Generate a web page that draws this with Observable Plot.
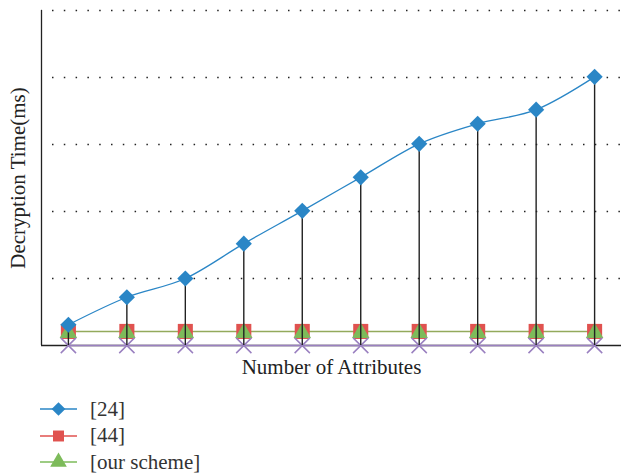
<!DOCTYPE html>
<html><head><meta charset="utf-8">
<script src="https://cdn.jsdelivr.net/npm/d3@7"></script>
<script src="https://cdn.jsdelivr.net/npm/@observablehq/plot@0.6"></script>
<style>
body{margin:0;background:#fff;font-family:"Liberation Serif","DejaVu Serif",serif;}
#legend{margin-left:40px;margin-top:11px;}
.item{display:flex;align-items:center;height:26.5px;font-size:21px;color:#333;}
.item svg{margin-right:13px;}
</style></head><body>
<div id="chart"></div>
<div id="legend"></div>
<script>
const attributes = [1,2,3,4,5,6,7,8,9,10];
const ref24 = [0.31,0.72,1.0,1.52,2.01,2.51,3.01,3.31,3.52,4.01];
const ref44 = [0.21,0.21,0.21,0.21,0.21,0.21,0.21,0.21,0.21,0.21];
const ours = [0.21,0.21,0.21,0.21,0.21,0.21,0.21,0.21,0.21,0.21];
const baseline = [0,0,0,0,0,0,0,0,0,0];
const gridValues = [1,2,3,4,5];
const seriesNames = ["[24]","[44]","[our scheme]"];
const colors = {blue:"#2a86c6", red:"#e0524f", green:"#7dbb5a", greenLine:"#93aa5c", purple:"#9a80c0"};

const rows = attributes.map((a,i)=>({a, b:ref24[i], r:ref44[i], g:ours[i], p:baseline[i]}));

const plot = Plot.plot({
  width:621, height:385,
  marginLeft:41, marginRight:0, marginTop:10, marginBottom:40,
  x:{domain:[0.54,10.46], axis:null},
  y:{domain:[0,5], axis:null},
  marks:[
    Plot.ruleY(gridValues,{stroke:"#222", strokeWidth:1.6, strokeDasharray:"1.5,10.3", strokeDashoffset:-11}),
    Plot.ruleY([0],{stroke:"#222", strokeWidth:1.3}),
    Plot.ruleX([0.54],{stroke:"#222", strokeWidth:1.3}),
    Plot.line(rows,{x:"a", y:"p", stroke:colors.purple, strokeWidth:1.5}),
    Plot.line(rows,{x:"a", y:"g", stroke:colors.greenLine, strokeWidth:1.6}),
    Plot.dot(rows,{x:"a", y:"r", symbol:"square", r:8.5, fill:colors.red}),
    Plot.dot(rows,{x:"a", y:"g", symbol:"triangle", dy:1.5, r:6.5, fill:colors.green}),
    Plot.dot(rows,{x:"a", y:"p", symbol:"times", r:7, stroke:colors.purple, strokeWidth:1.5}),
    Plot.line(rows,{x:"a", y:"b", stroke:colors.blue, strokeWidth:1.3, curve:"monotone-x"}),
    Plot.ruleX(rows,{x:"a", y1:"p", y2:"b", stroke:"#222", strokeWidth:1.4}),
    Plot.dot(rows,{x:"a", y:"b", symbol:"diamond2", r:7.3, fill:colors.blue}),
    Plot.text(["Number of Attributes"],{frameAnchor:"bottom", dy:28, fontSize:21, fill:"#222", fontFamily:"Liberation Serif"}),
    Plot.text(["Decryption Time(ms)"],{frameAnchor:"left", dx:-23, rotate:-90, textAnchor:"middle", fontSize:21, fill:"#222", fontFamily:"Liberation Serif"})
  ]
});
document.getElementById("chart").appendChild(plot);

const legendColors = [colors.blue, colors.red, colors.green];
const legendSymbols = ["diamond2","square","triangle"];
const leg = document.getElementById("legend");
seriesNames.forEach((name,i)=>{
  const div = document.createElement("div");
  div.className="item";
  const s = d3.create("svg").attr("width",37).attr("height",20);
  s.append("line").attr("x1",0).attr("x2",37).attr("y1",10).attr("y2",10).attr("stroke",legendColors[i]).attr("stroke-width",1.5);
  const sym = {diamond2:d3.symbolDiamond2, square:d3.symbolSquare, triangle:d3.symbolTriangle}[legendSymbols[i]];
  s.append("path").attr("d",d3.symbol(sym, 120)()).attr("transform","translate(18.5,10)").attr("fill",legendColors[i]);
  div.appendChild(s.node());
  const t = document.createElement("span"); t.textContent=name; div.appendChild(t);
  leg.appendChild(div);
});
</script></body></html>
